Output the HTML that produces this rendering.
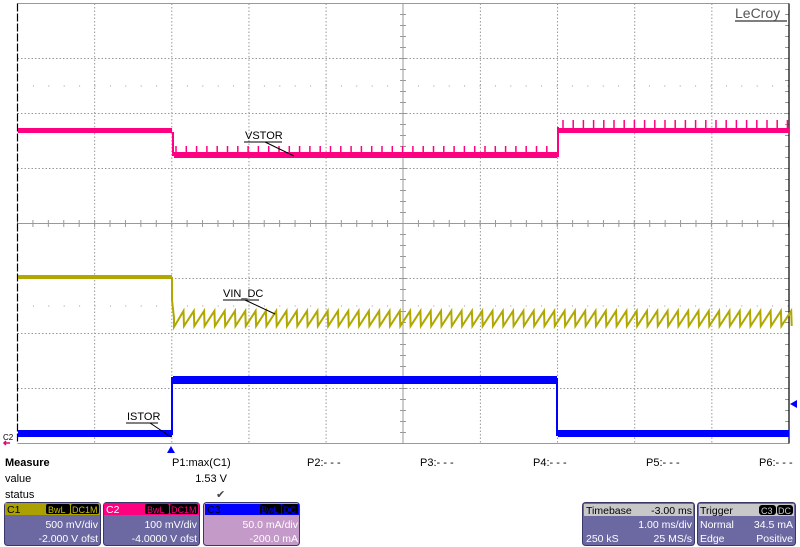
<!DOCTYPE html>
<html><head><meta charset="utf-8"><style>
html,body{margin:0;padding:0;background:#fff;width:800px;height:547px;overflow:hidden;font-family:"Liberation Sans",sans-serif}
</style></head><body>
<svg id="s" width="800" height="547" xmlns="http://www.w3.org/2000/svg" style="position:absolute;left:0;top:0" font-family="Liberation Sans, sans-serif">
<rect width="800" height="547" fill="#fff"/>
<g id="grid"></g>
<g id="traces"></g>
<!-- labels -->
<g font-size="11" fill="#000">
<text x="245" y="139">VSTOR</text><line x1="244" y1="142" x2="282" y2="142" stroke="#000"/><line x1="265" y1="142" x2="294" y2="156" stroke="#000"/>
<text x="223" y="297">VIN_DC</text><line x1="223" y1="300" x2="259" y2="300" stroke="#000"/><line x1="245" y1="300" x2="275" y2="314" stroke="#000"/>
<text x="127" y="420">ISTOR</text><line x1="126" y1="423" x2="158" y2="423" stroke="#000"/><line x1="150" y1="423" x2="171" y2="437" stroke="#000"/>
</g>
<text x="3" y="440" font-size="8" fill="#000">C2</text>
<path d="M4 443 L10 443 M6 441 L4 443 L6 445" stroke="#e0007a" stroke-width="1.5" fill="none"/>
<path d="M167 453 L175 453 L171 446Z" fill="#0000ff"/>
<path d="M797 400 L797 408 L790 404Z" fill="#0000ff"/>
<text x="735" y="18" font-size="14" fill="#555">LeCroy</text><line x1="735" y1="21" x2="787" y2="21" stroke="#555" stroke-width="1.5"/>
<!-- measure -->
<g font-size="11" fill="#000">
<text x="5" y="466" font-weight="bold">Measure</text>
<text x="5" y="482">value</text>
<text x="5" y="498">status</text>
<text x="172" y="466">P1:max(C1)</text>
<text x="227" y="482" text-anchor="end">1.53 V</text>
<text x="216" y="498" fill="#444">✔</text>
<text x="307" y="466">P2:- - -</text>
<text x="420" y="466">P3:- - -</text>
<text x="533" y="466">P4:- - -</text>
<text x="646" y="466">P5:- - -</text>
<text x="759" y="466">P6:- - -</text>
</g>
<!-- channel boxes -->
<g font-size="10.5">
<rect x="4.5" y="502.5" width="96" height="43" rx="3" fill="#6c68a2" stroke="#3a3868"/>
<rect x="5" y="503" width="95" height="12" fill="#aaa000"/>
<text x="7" y="513" fill="#000">C1</text>
<rect x="46" y="504" width="24" height="10" rx="2" fill="#000"/><text x="48" y="513" fill="#c8c000" font-size="9">BwL</text>
<rect x="71" y="504" width="28" height="10" rx="2" fill="#000"/><text x="72" y="513" fill="#c8c000" font-size="9">DC1M</text>
<text x="98" y="528" text-anchor="end" fill="#fff">500 mV/div</text>
<text x="98" y="542" text-anchor="end" fill="#fff">-2.000 V ofst</text>

<rect x="103.5" y="502.5" width="96" height="43" rx="3" fill="#6c68a2" stroke="#3a3868"/>
<rect x="104" y="503" width="95" height="12" fill="#ff0080"/>
<text x="106" y="513" fill="#fff">C2</text>
<rect x="145" y="504" width="24" height="10" rx="2" fill="#000"/><text x="147" y="513" fill="#ff0080" font-size="9">BwL</text>
<rect x="170" y="504" width="28" height="10" rx="2" fill="#000"/><text x="171" y="513" fill="#ff0080" font-size="9">DC1M</text>
<text x="197" y="528" text-anchor="end" fill="#fff">100 mV/div</text>
<text x="197" y="542" text-anchor="end" fill="#fff">-4.0000 V ofst</text>

<rect x="203.5" y="502.5" width="96" height="43" rx="3" fill="#c49ac8" stroke="#3a3868"/>
<rect x="205" y="504" width="94" height="11" fill="#0000ff"/>
<text x="207" y="513" fill="#000">C3</text>
<rect x="260" y="504" width="21" height="10" rx="2" fill="#000"/><text x="261" y="513" fill="#0000ff" font-size="9">BwL</text>
<rect x="282" y="504" width="16" height="10" rx="2" fill="#000"/><text x="283" y="513" fill="#0000ff" font-size="9">DC</text>
<text x="298" y="528" text-anchor="end" fill="#fff">50.0 mA/div</text>
<text x="298" y="542" text-anchor="end" fill="#fff">-200.0 mA</text>

<rect x="582.5" y="502.5" width="112" height="43" rx="3" fill="#6c68a2" stroke="#3a3868"/>
<rect x="584" y="504" width="109" height="12" fill="#c8c8c8"/>
<text x="586" y="514" fill="#000">Timebase</text>
<text x="692" y="514" text-anchor="end" fill="#000">-3.00 ms</text>
<text x="692" y="528" text-anchor="end" fill="#fff">1.00 ms/div</text>
<text x="586" y="542" fill="#fff">250 kS</text>
<text x="692" y="542" text-anchor="end" fill="#fff">25 MS/s</text>

<rect x="697.5" y="502.5" width="98" height="43" rx="3" fill="#6c68a2" stroke="#3a3868"/>
<rect x="699" y="504" width="95" height="12" fill="#c8c8c8"/>
<text x="700" y="514" fill="#000">Trigger</text>
<rect x="759" y="505" width="17" height="10" rx="3" fill="#000"/><text x="761" y="514" fill="#ccc" font-size="9">C3</text>
<rect x="777" y="505" width="16" height="10" rx="3" fill="#000"/><text x="778" y="514" fill="#ccc" font-size="9">DC</text>
<text x="700" y="528" fill="#fff">Normal</text>
<text x="793" y="528" text-anchor="end" fill="#fff">34.5 mA</text>
<text x="700" y="542" fill="#fff">Edge</text>
<text x="793" y="542" text-anchor="end" fill="#fff">Positive</text>
</g>
</svg>
<script>
var NS="http://www.w3.org/2000/svg";
function el(p,t,a){var e=document.createElementNS(NS,t);for(var k in a)e.setAttribute(k,a[k]);document.getElementById(p).appendChild(e);return e;}
var L=17.5,R=789,T=3.5,B=443.5,dx=(R-L)/10,dy=55;
for(var i=1;i<10;i++){var x=L+i*dx;if(i!=5)el('grid','line',{x1:x,y1:T,x2:x,y2:B,stroke:'#999','stroke-dasharray':'1.5 2'});}
for(var j=1;j<8;j++){var y=T+j*dy;if(j!=4)el('grid','line',{x1:L,y1:y,x2:R,y2:y,stroke:'#999','stroke-dasharray':'1.5 2'});}
// minor dot rows
[85.5,305.5].forEach(function(y){for(var x=L+15.4;x<R;x+=15.4)el('grid','rect',{x:x,y:y,width:1,height:1,fill:'#999'});});
el('grid','line',{x1:L,y1:223.5,x2:R,y2:223.5,stroke:'#999','stroke-width':1});
el('grid','line',{x1:403,y1:T,x2:403,y2:B,stroke:'#999','stroke-width':1});
for(var x=L;x<R;x+=15.42)el('grid','line',{x1:x,y1:220,x2:x,y2:227,stroke:'#999'});
for(var y=T;y<B;y+=11)el('grid','line',{x1:400,y1:y,x2:406,y2:y,stroke:'#999'});
for(var y=T;y<B;y+=11)el('grid','line',{x1:785,y1:y,x2:789,y2:y,stroke:'#999'});
el('grid','line',{x1:L,y1:T,x2:R,y2:T,stroke:'#999'});
el('grid','line',{x1:L,y1:B,x2:R,y2:B,stroke:'#999'});
el('grid','line',{x1:L,y1:T,x2:L,y2:B,stroke:'#000','stroke-width':1.2,'stroke-dasharray':'8 2'});
el('grid','line',{x1:R,y1:T,x2:R,y2:B,stroke:'#000','stroke-width':1.2});
// pink
var pk='#ff0080';
el('traces','rect',{x:18,y:128,width:154,height:5,fill:pk});
el('traces','rect',{x:172,y:132,width:2,height:24,fill:pk});
el('traces','rect',{x:174,y:152,width:383,height:6,fill:pk});
el('traces','rect',{x:557,y:127,width:2,height:30,fill:pk});
el('traces','rect',{x:559,y:128,width:230,height:5,fill:pk});
var d='';for(var x=176;x<556;x+=10.3){d+='M'+x.toFixed(1)+' 153 V146 ';}
for(var x=563;x<789;x+=10.2){d+='M'+x.toFixed(1)+' 129 V120 ';}
el('traces','path',{d:d,stroke:pk,'stroke-width':1.5,fill:'none'});
// yellow
var yl='#b0a800';
el('traces','rect',{x:18,y:275,width:154,height:4,fill:yl});
var d='M172 277 V300 L174 318 V327 ';var x=174;
while(x<789){d+='L'+(x+9.5).toFixed(1)+' 311 L'+(x+10).toFixed(1)+' 326 ';x+=10.3;}
el('traces','path',{d:d,stroke:yl,'stroke-width':2,fill:'none'});
// blue
var bl='#0000ff';
el('traces','rect',{x:18,y:430,width:154,height:7,fill:bl});
el('traces','rect',{x:171,y:377,width:2,height:58,fill:bl});
el('traces','rect',{x:173,y:376,width:384,height:8,fill:bl});
el('traces','rect',{x:556,y:378,width:2,height:58,fill:bl});
el('traces','rect',{x:558,y:430,width:231,height:7,fill:bl});
</script>
</body></html>
